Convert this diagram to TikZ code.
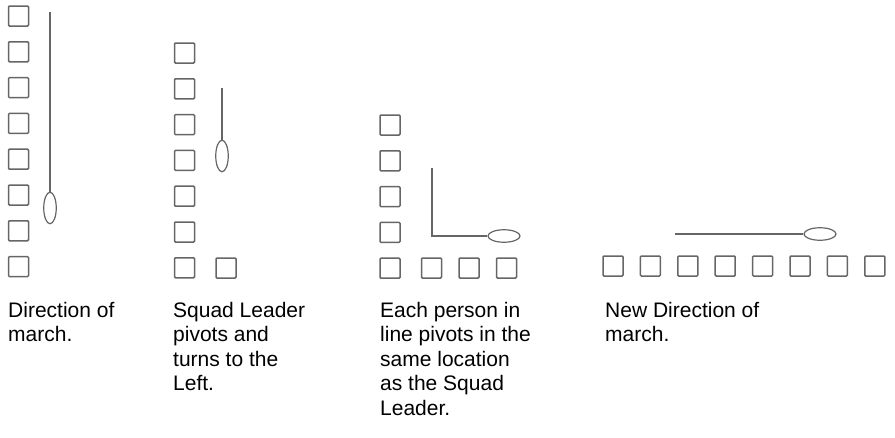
\documentclass[tikz,border=0pt]{standalone}
\usepackage{fontspec}
\setmainfont{Liberation Sans}
\usetikzlibrary{shapes.geometric}

\begin{document}
\begin{tikzpicture}[
  x=1pt,y=-1pt,
  person/.style={draw=black!60,line width=1.5pt,rounded corners=1pt,
                 minimum size=20pt,inner sep=0pt},
  leader/.style={draw=black!60,line width=1.2pt,ellipse,inner sep=0pt},
  vlead/.style={leader,minimum width=12.5pt,minimum height=31.5pt},
  hlead/.style={leader,minimum width=32pt,minimum height=12.5pt},
  trail/.style={draw=black!60,line width=1.5pt},
  caption/.style={anchor=north west,align=left,inner sep=0pt,
                  font=\fontsize{21}{24.5}\selectfont}
]
\useasboundingbox (0,0) rectangle (895,437);

% column marching forward
\foreach \i in {0,...,7}
  \node[person] (a\i) at (18.5,{16+35.8*\i}) {};
\node[vlead] (lead1) at (50,208) {};
\coordinate (tail1) at (50,12);
\draw[trail] (tail1) -- (lead1);

% leader pivots
\foreach \i in {0,...,6}
  \node[person] (b\i) at (184.5,{53+35.8*\i}) {};
\node[person] (b7) at (226,268) {};
\node[vlead] (lead2) at (222,156) {};
\coordinate (tail2) at (222,88);
\draw[trail] (tail2) -- (lead2);

% each one pivots at the same spot
\foreach \i in {0,...,4}
  \node[person] (c\i) at (390,{125+35.8*\i}) {};
\foreach \x [count=\j from 5] in {431.5,469,506.5}
  \node[person] (c\j) at (\x,268) {};
\node[hlead] (lead3) at (504,236) {};
\coordinate (tail3) at (432,168);
\draw[trail] (tail3) |- (lead3);

% new direction
\foreach \i in {0,...,7}
  \node[person] (d\i) at ({613+37.4*\i},266) {};
\node[hlead] (lead4) at (820,234) {};
\coordinate (tail4) at (675,234);
\draw[trail] (tail4) -- (lead4);

\node[caption] (cap1) at (8,302) {Direction of\\march.};
\node[caption] (cap2) at (173,302) {Squad Leader\\pivots and\\turns to the\\Left.};
\node[caption] (cap3) at (380,302) {Each person in\\line pivots in the\\same location\\as the Squad\\Leader.};
\node[caption] (cap4) at (605,302) {New Direction of\\march.};
\end{tikzpicture}
\end{document}
